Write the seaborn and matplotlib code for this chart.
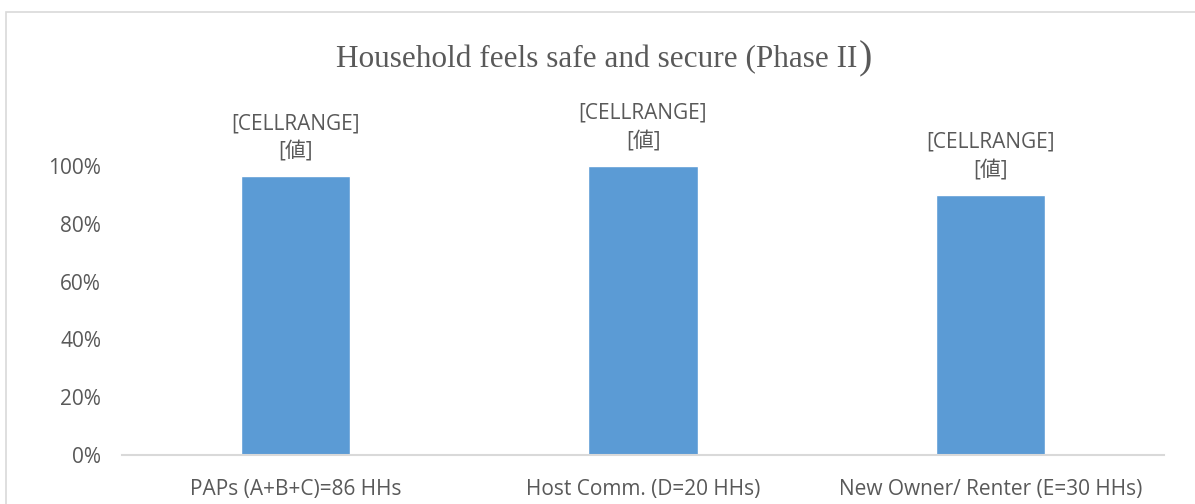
import matplotlib
matplotlib.use("Agg")
import matplotlib.pyplot as plt
import matplotlib.patches as mpatches
import seaborn as sns
import pandas as pd

# data
groups = ["PAPs (A+B+C)=86 HHs", "Host Comm. (D=20 HHs)", "New Owner/ Renter (E=30 HHs)"]
shares = [0.965, 1.00, 0.90]
bar_labels = ["[CELLRANGE]\n[値]", "[CELLRANGE]\n[値]", "[CELLRANGE]\n[値]"]
y_ticks = [0, 0.2, 0.4, 0.6, 0.8, 1.0]
y_tick_labels = ["0%", "20%", "40%", "60%", "80%", "100%"]

df = pd.DataFrame({"group": groups, "share": shares})

sns.set_theme(style="white")
plt.rcParams["font.family"] = ["Open Sans", "Noto Sans CJK JP", "DejaVu Sans"]

txt = "#595959"
fig = plt.figure(figsize=(11.95, 5.04), dpi=100)
W, H = 1195, 504
ax = fig.add_axes([122 / W, 1 - 455 / H, (1164 - 122) / W, (455 - 166) / H])

sns.barplot(data=df, x="group", y="share", color="#5B9BD5", saturation=1,
            width=0.314, ax=ax)

ax.set_ylim(0, 1.0)
ax.set_yticks(y_ticks)
ax.set_yticklabels(y_tick_labels)
ax.set_xlabel("")
ax.set_ylabel("")
for s in ["top", "right", "left"]:
    ax.spines[s].set_visible(False)
ax.spines["bottom"].set_color("#D9D9D9")
ax.spines["bottom"].set_linewidth(1.5)
ax.tick_params(axis="both", length=0, colors=txt, labelsize=15)
ax.tick_params(axis="y", pad=15)
ax.tick_params(axis="x", pad=17)

for i, (v, lab) in enumerate(zip(shares, bar_labels)):
    ax.annotate(lab, (i, v), xytext=(0, 10), textcoords="offset points",
                ha="center", va="bottom", fontsize=15, color=txt,
                linespacing=1.45, annotation_clip=False)

# title, with the oversized closing bracket seen in the original
title = fig.text(597 / W, 1 - 60 / H, "Household feels safe and secure (Phase II",
                 ha="center", va="center", fontsize=22.5, color=txt,
                 family="Liberation Serif")
fig.canvas.draw()
bb = title.get_window_extent()
fig.text(bb.x1 / W + 1 / W, 1 - 59 / H, ")", ha="left", va="center",
         fontsize=29, color=txt, family="Liberation Serif")

# outer chart frame, like the spreadsheet chart area
frame = mpatches.Rectangle((6 / W, -0.1), 1.2, 1 - 12 / H + 0.1,
                           transform=fig.transFigure, fill=False,
                           edgecolor="#D9D9D9", linewidth=1.2)
fig.patches.append(frame)

fig.savefig("out.png", dpi=100)
